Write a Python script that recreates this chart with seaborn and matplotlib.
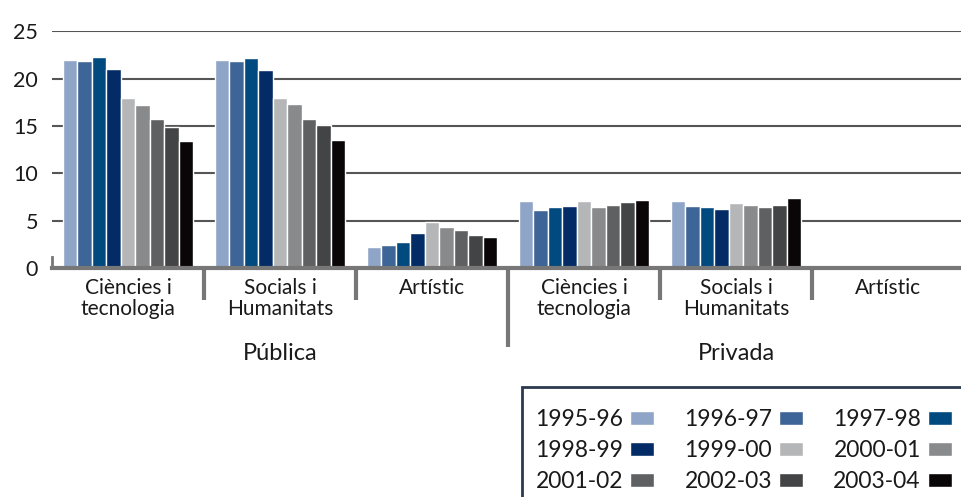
import numpy as np
import pandas as pd
import matplotlib
matplotlib.use("Agg")
import matplotlib.pyplot as plt
import matplotlib.transforms as mtransforms
from matplotlib.patches import Rectangle
import seaborn as sns

# ---- data ----
years = ["1995-96", "1996-97", "1997-98", "1998-99", "1999-00",
         "2000-01", "2001-02", "2002-03", "2003-04"]
sectors = ["Pública", "Privada"]
fields = ["Ciències i\ntecnologia", "Socials i\nHumanitats", "Artístic"]

cien_pub = [22.0, 21.9, 22.3, 21.0, 18.0, 17.2, 15.7, 14.9, 13.4]
soc_pub = [22.0, 21.9, 22.2, 20.9, 18.0, 17.3, 15.8, 15.1, 13.5]
art_pub = [2.2, 2.4, 2.8, 3.7, 4.9, 4.3, 4.0, 3.5, 3.3]
cien_priv = [7.1, 6.1, 6.5, 6.6, 7.1, 6.4, 6.7, 7.0, 7.2]
soc_priv = [7.1, 6.6, 6.5, 6.2, 6.9, 6.7, 6.4, 6.7, 7.4]
art_priv = [np.nan] * 9  # no data

colors = ["#8fa5c8", "#3e6597", "#004a80", "#032c66", "#b5b6b8",
          "#898a8c", "#5f6062", "#434446", "#0a0507"]

series = [cien_pub, soc_pub, art_pub, cien_priv, soc_priv, art_priv]
cats = [f"{s}|{f}" for s in sectors for f in fields]
rows = []
for cat, vals in zip(cats, series):
    for y, v in zip(years, vals):
        rows.append({"cat": cat, "year": y, "value": v})
df = pd.DataFrame(rows)

# ---- style ----
sns.set_theme(style="white")
plt.rcParams["font.family"] = ["Lato", "DejaVu Sans"]
txt = "#1a1a1a"
line_col = "#777777"

fig = plt.figure(figsize=(9.61, 4.97), dpi=100)
ax = fig.add_axes([52 / 961, (497 - 268) / 497, 912 / 961, (268 - 31.5) / 497])

sns.barplot(data=df, x="cat", y="value", hue="year", order=cats,
            hue_order=years, palette=colors, width=0.86, saturation=1,
            errorbar=None, ax=ax)

ax.set_xlim(-0.5, 5.5)
ax.set_ylim(0, 25)
ax.set_axisbelow(True)
ax.yaxis.grid(True, color="#555555", lw=1.5)
ax.set_yticks([0, 5, 10, 15, 20, 25])
ax.tick_params(axis="y", length=0, pad=10, labelsize=15.5, labelcolor=txt)
ax.set_xticks(range(len(cats)))
ax.set_xticklabels([c.split("|")[1] for c in cats], fontsize=15,
                   color=txt, linespacing=1.1)
ax.tick_params(axis="x", length=0, pad=7)
ax.set_xlabel("")
ax.set_ylabel("")

for s in ["top", "right"]:
    ax.spines[s].set_visible(False)
ax.spines["bottom"].set_color(line_col)
ax.spines["bottom"].set_linewidth(3)
ax.spines["left"].set_color(line_col)
ax.spines["left"].set_linewidth(2)
ax.spines["left"].set_bounds(0, 1.2)

# category separators below the axis
trans = mtransforms.blended_transform_factory(ax.transData, ax.transAxes)
for b in [0.5, 1.5, 3.5, 4.5]:
    ax.plot([b, b], [0, -0.135], transform=trans, clip_on=False,
            color=line_col, lw=3, solid_capstyle="butt")
ax.plot([2.5, 2.5], [0, -0.335], transform=trans, clip_on=False,
        color=line_col, lw=3, solid_capstyle="butt")

# sector labels
for i, s in enumerate(sectors):
    ax.text(1 + 3 * i, -0.36, s, transform=trans, ha="center", va="center",
            fontsize=17, color=txt)

# legend, filled row by row
handles, labels = ax.get_legend_handles_labels()
if ax.legend_ is not None:
    ax.legend_.remove()
ncol = 3
idx = [r * ncol + c for c in range(ncol) for r in range(len(years) // ncol)]
fig.legend([handles[i] for i in idx], [labels[i] for i in idx], ncol=ncol,
           markerfirst=False, frameon=False,
           loc="upper left", bbox_to_anchor=(524 / 961, 1 - 398 / 497),
           fontsize=16.5, handlelength=1.05, handleheight=0.55,
           handletextpad=0.3, columnspacing=1.3, labelspacing=0.42,
           borderpad=0, labelcolor=txt)
fig.patches.append(Rectangle((522 / 961, -0.05), 0.6, (497 - 387) / 497 + 0.05,
                             transform=fig.transFigure, fill=False,
                             edgecolor="#2b3a4e", lw=2))

fig.savefig("out.png", dpi=100)
